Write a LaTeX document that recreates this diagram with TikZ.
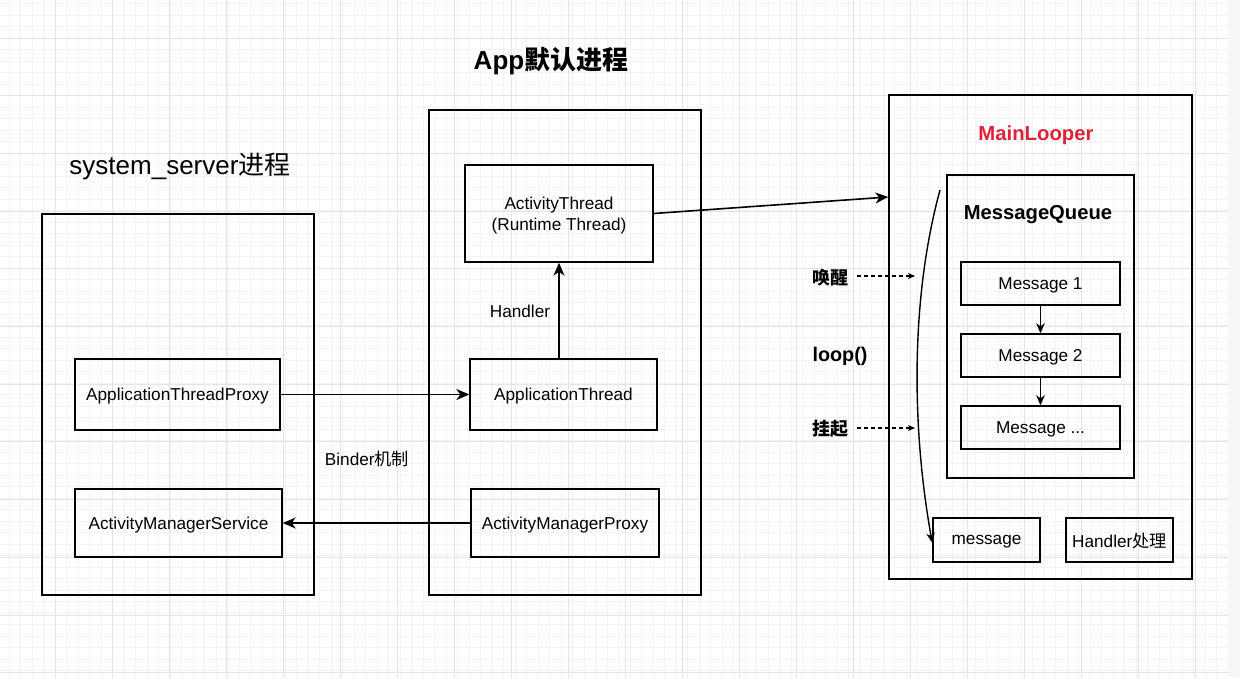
\documentclass[tikz,border=0pt]{standalone}
\usepackage{fontspec}
\setmainfont{Liberation Sans}
\newfontfamily\cjk{Noto Sans CJK SC}
\usetikzlibrary{arrows.meta}
\definecolor{gridmajor}{RGB}{229,229,229}
\definecolor{gridminor}{RGB}{243,243,243}
\definecolor{looperred}{RGB}{225,33,58}
\begin{document}
\begin{tikzpicture}[x=1pt,y=-1pt,
    box/.style={draw,line width=1.4pt,inner sep=0pt,align=center,text depth=0pt,
      font=\fontsize{17.2}{21}\selectfont},
    label/.style={inner sep=0pt,text depth=0pt,font=\fontsize{17.2}{21}\selectfont},
    frame/.style={draw,line width=1.4pt,inner sep=0pt},
    arrow/.style={line width=1.6pt,-{Stealth[length=13pt,width=11pt,inset=4pt]}},
    smallarrow/.style={line width=1.4pt,-{Stealth[length=10pt,width=8.5pt,inset=3pt]}},
    dasharrow/.style={line width=1.2pt,dash pattern=on 4pt off 3pt,
      -{Stealth[length=7pt,width=6pt,inset=2pt]}}]
                    \useasboundingbox (0,0) rectangle (1240,678);

                    % Background grid
                    \fill[white] (0,0) rectangle (1240,678);
                    \foreach \gx in {-2.5,9,...,1240} {\draw[gridminor,line width=0.6pt] (\gx,0) -- (\gx,678);}
                    \foreach \gy in {3.4,14.9,...,678} {\draw[gridminor,line width=0.6pt] (0,\gy) -- (1240,\gy);}
                    \foreach \gx in {-2,55,...,1240} {\draw[gridmajor,line width=1pt] (\gx,0) -- (\gx,678);}
                    \foreach \gy in {-19.7,38,...,678} {\draw[gridmajor,line width=1pt] (0,\gy) -- (1240,\gy);}
                    \fill[gridminor!70] (1228,0) rectangle (1240,678);

                    % Titles of the processes
                    \node[label,font=\fontsize{26}{30}\selectfont\bfseries] (apptitle) at (551,58) {App{\cjk\bfseries 默认进程}};
                    \node[label,font=\fontsize{26}{30}\selectfont] (systitle) at (180,164) {system\_server{\cjk 进程}};

                    % Process frames
                    \node[frame,minimum width=272pt,minimum height=381pt] (sys) at (178,404.5) {};
                    \node[frame,minimum width=272pt,minimum height=485pt] (app) at (565,352.5) {};
                    \node[frame,minimum width=303pt,minimum height=484pt] (looper) at (1040.5,337) {};

                    % system_server boxes
                    \node[box,minimum width=205pt,minimum height=71pt] (atproxy) at (177.5,394.5) {ApplicationThreadProxy};
                    \node[box,minimum width=207pt,minimum height=68pt] (ams) at (178.5,523) {ActivityManagerService};

                    % App boxes
                    \node[box,minimum width=188pt,minimum height=97pt] (actthread) at (559,213.5) {ActivityThread\\(Runtime Thread)};
                    \node[box,minimum width=187pt,minimum height=71pt] (appthread) at (563.5,394.5) {ApplicationThread};
                    \node[box,minimum width=188pt,minimum height=68pt] (amproxy) at (565,523) {ActivityManagerProxy};

                    % Binder arrows
                    \draw[arrow] (atproxy.east) -- (appthread.west);
                    \draw[arrow] (amproxy.west) -- (ams.east);
                    \node[label] (binder) at (367,458) {Binder{\cjk 机制}};

                    % Handler arrow
                    \draw[arrow] (actthread.south |- appthread.north) -- (actthread.south);
                    \node[label] (handler) at (520,311) {Handler};

                    % ActivityThread to MainLooper
                    \coordinate (looperin) at ([yshift=140pt]looper.west);
                    \draw[arrow] (actthread.east) -- (looperin);

                    % MainLooper contents
                    \node[label,text=looperred,font=\fontsize{20.3}{24}\selectfont\bfseries] (loopertitle) at (1036,133) {MainLooper};
                    \node[frame,minimum width=187pt,minimum height=303pt] (queue) at (1040.5,326.5) {};
                    \node[label,font=\fontsize{20.2}{24}\selectfont\bfseries] (queuetitle) at (1038,212) {MessageQueue};
                    \node[box,minimum width=159pt,minimum height=43pt] (msgone) at (1040.5,283.5) {Message 1};
                    \node[box,minimum width=159pt,minimum height=43pt] (msgtwo) at (1040.5,355.5) {Message 2};
                    \node[box,minimum width=159pt,minimum height=43pt] (msgmore) at (1040.5,427.5) {Message ...};
                    \draw[smallarrow] (msgone) -- (msgtwo);
                    \draw[smallarrow] (msgtwo) -- (msgmore);
                    \node[box,minimum width=107pt,minimum height=44pt] (message) at (986.5,540) {message};
                    \node[box,minimum width=107pt,minimum height=44pt] (dispatch) at (1119.5,540) {Handler{\cjk 处理}};

                    % Loop curve
                    \coordinate (loopstart) at (940,190);
                    \coordinate (loopend) at ([yshift=-3pt]message.west);
                    \draw[smallarrow] (loopstart) .. controls (910,300) and (912,430) .. (loopend);

                    % Wake and suspend
                    \node[label,font=\fontsize{18}{22}\selectfont\cjk\bfseries] (wake) at (830,277) {唤醒};
                    \node[label,font=\fontsize{19.8}{24}\selectfont\bfseries] (loop) at (840,354) {loop()};
                    \node[label,font=\fontsize{18}{22}\selectfont\cjk\bfseries] (suspend) at (830,428) {挂起};
                    \coordinate (wakeend) at (915,276);
                    \coordinate (suspendend) at (915,428);
                    \draw[dasharrow] ([xshift=9pt]wake.east |- wakeend) -- (wakeend);
                    \draw[dasharrow] ([xshift=9pt]suspend.east |- suspendend) -- (suspendend);
\end{tikzpicture}
\end{document}
